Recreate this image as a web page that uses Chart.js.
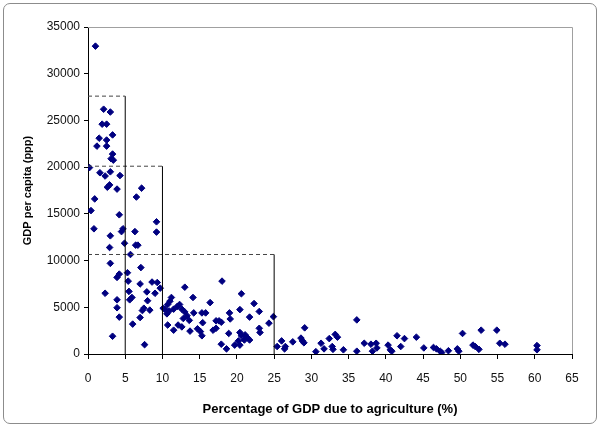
<!DOCTYPE html>
<html>
<head>
<meta charset="utf-8">
<script src="https://cdn.jsdelivr.net/npm/chart.js@4/dist/chart.umd.min.js"></script>
<style>
  body { margin: 0; background: #fff; }
  #wrap { position: relative; width: 600px; height: 428px; }
  #frame { position: absolute; left: 3px; top: 3px; width: 592px; height: 419px;
           border: 1px solid #8c8c8c; border-radius: 7px; pointer-events: none; }
</style>
</head>
<body>
<div id="wrap">
  <canvas id="box" width="600" height="428"></canvas>
  <div id="frame"></div>
</div>
<script>
// % of GDP from agriculture (x) and GDP per capita, ppp (y), one entry per country
var agri = [1.0, 2.1, 3.0, 1.9, 2.5, 1.5, 3.3, 2.5, 1.2, 2.5, 3.3, 3.1, 3.4, 0.2, 1.6, 3.0, 2.3, 4.3, 2.9, 2.6,
    3.9, 7.2, 6.5, 0.9, 0.4, 4.2, 9.2, 0.8, 3.0, 4.7, 4.5, 6.3, 9.2, 2.9, 4.9, 6.4, 6.7, 5.7, 3.0, 7.1,
    5.3, 4.2, 3.9, 5.4, 7.0, 8.6, 9.3, 9.7, 2.3, 5.5, 7.9, 9.0, 5.9, 5.6, 3.9, 8.0, 11.0, 10.7, 3.9, 7.5,
    7.3, 8.3, 4.2, 7.0, 6.0, 10.7, 11.5, 3.3, 7.6, 10.1, 10.3, 10.9, 10.6, 13.0, 18.0, 11.2, 14.1, 20.6, 16.4, 22.3,
    11.5, 12.0, 12.6, 13.0, 13.3, 12.8, 13.6, 12.3, 14.2, 15.3, 15.8, 19.0, 20.4, 23.0, 21.7, 19.1, 24.9, 24.3, 15.4, 17.2,
    17.6, 17.9, 16.8, 17.2, 14.7, 15.1, 15.3, 13.7, 12.1, 12.6, 18.9, 23.0, 23.1, 20.4, 20.6, 21.1, 21.4, 21.7, 21.0, 20.2,
    19.7, 20.4, 17.9, 18.6, 25.4, 26.0, 26.5, 26.4, 27.5, 28.6, 28.8, 29.0, 29.1, 30.6, 31.3, 31.7, 32.4, 32.8, 32.9, 33.2,
    33.5, 34.3, 36.1, 36.1, 37.1, 38.0, 38.2, 38.7, 38.8, 40.3, 40.6, 40.8, 41.5, 42.0, 42.5, 44.1, 45.1, 46.4, 46.8, 47.3,
    47.5, 48.4, 49.6, 49.8, 50.3, 51.7, 52.0, 52.5, 52.8, 54.9, 55.3, 56.0, 60.3, 60.3];
var gdp = [32950, 26200, 25900, 24600, 24600, 23100, 23450, 22900, 22250, 22250, 21400, 20900, 20750, 19950, 19400, 19500, 19050, 19100, 18100, 17850,
    17650, 17750, 16800, 16600, 15350, 14900, 14150, 13400, 12650, 13400, 13100, 13100, 13050, 11400, 11850, 11650, 11650, 10650, 9700, 9250,
    8700, 8550, 8200, 7800, 7500, 7700, 7650, 7050, 6500, 6700, 6650, 6500, 6050, 5800, 5800, 5700, 5650, 5300, 4950, 4900,
    4650, 4700, 3950, 3900, 3200, 3100, 2550, 1900, 1000, 4900, 4800, 4600, 4300, 7150, 7800, 6050, 6050, 6450, 5500, 5400,
    4800, 5100, 4800, 4500, 4100, 3800, 3600, 5300, 4400, 4400, 4400, 4400, 4750, 4550, 3950, 3750, 4000, 3300, 3350, 3550,
    3550, 3400, 2550, 2750, 2700, 2400, 1950, 2450, 3100, 2900, 2200, 2750, 2300, 2300, 1950, 2050, 1750, 1500, 1500, 1400,
    950, 950, 1050, 550, 800, 1400, 800, 550, 1300, 1700, 1400, 1200, 2800, 250, 1150, 550, 1650, 800, 500, 2100,
    1800, 450, 3650, 300, 1150, 1050, 300, 1150, 650, 950, 450, 300, 1950, 800, 1650, 1800, 650, 700, 550, 300,
    150, 350, 550, 300, 2200, 950, 800, 500, 2550, 2550, 1150, 1050, 900, 450];

// cut-off boxes: agriculture share limit and the GDP level drawn for it
var boxX = [5, 10, 25];
var boxY = [27600, 20100, 10650];

var xTicks = {min: 0, max: 65, step: 5};
var yTicks = {min: 0, max: 35000, step: 5000};

var points = agri.map(function (a, i) { return {x: a, y: gdp[i]}; });

var datasets = [];
boxX.forEach(function (bx, i) {
    datasets.push({
        type: 'line', data: [{x: 0, y: boxY[i]}, {x: bx, y: boxY[i]}],
        borderColor: '#444', borderWidth: 1, borderDash: [4, 3], pointRadius: 0, fill: false
    });
    datasets.push({
        type: 'line', data: [{x: bx, y: 0}, {x: bx, y: boxY[i]}],
        borderColor: '#000', borderWidth: 1, pointRadius: 0, fill: false
    });
});
datasets.push({
    type: 'scatter', data: points,
    pointStyle: 'rectRot', pointRadius: 3.3, borderWidth: 1,
    backgroundColor: '#000080', borderColor: '#000080'
});

// grey frame on the top and right of the plot area
var plotFrame = {
    id: 'plotFrame',
    afterDraw: function (chart) {
        var a = chart.chartArea, ctx = chart.ctx;
        ctx.save();
        ctx.strokeStyle = '#a0a0a0';
        ctx.lineWidth = 1;
        ctx.beginPath();
        ctx.moveTo(a.left, a.top + 0.5);
        ctx.lineTo(a.right + 0.5, a.top + 0.5);
        ctx.lineTo(a.right + 0.5, a.bottom);
        ctx.stroke();
        ctx.restore();
    }
};

var font = {family: 'Liberation Sans, Arial, sans-serif', size: 12};

new Chart('box', {
    data: {datasets: datasets},
    plugins: [plotFrame],
    options: {
        responsive: false,
        animation: false,
        layout: {padding: {left: 0, right: 28, top: 27, bottom: 0}},
        plugins: {legend: {display: false}, tooltip: {enabled: false}},
        scales: {
            x: {
                type: 'linear', min: xTicks.min, max: xTicks.max,
                ticks: {stepSize: xTicks.step, color: '#111', font: font, padding: 12},
                grid: {drawOnChartArea: false, tickLength: 5, color: '#000'},
                border: {color: '#000', width: 1},
                title: {display: true, text: 'Percentage of GDP due to agriculture (%)', color: '#000',
                    font: {family: font.family, size: 13, weight: 'bold'}, padding: {top: 0, bottom: 11}},
                afterFit: function (s) { s.height = 74; }
            },
            y: {
                type: 'linear', min: yTicks.min, max: yTicks.max,
                ticks: {stepSize: yTicks.step, color: '#111', font: font, padding: 4,
                    callback: function (v) { return String(v); }},
                grid: {drawOnChartArea: false, tickLength: 4, color: '#000'},
                border: {color: '#000', width: 1},
                title: {display: true, text: 'GDP per capita (ppp)', color: '#000',
                    font: {family: font.family, size: 11, weight: 'bold'}, padding: {top: 21, bottom: 0}},
                afterFit: function (s) { s.width = 88; }
            }
        }
    }
});
</script>
</body>
</html>
